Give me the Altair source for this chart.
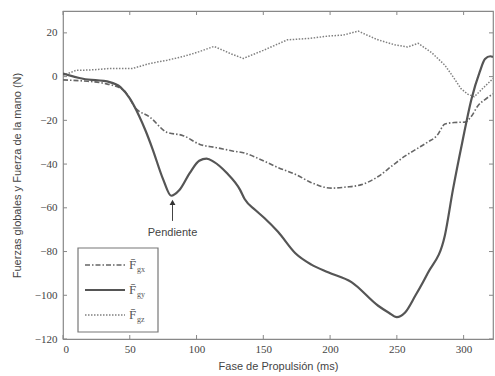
import altair as alt
import pandas as pd

# Series: solid (F gy)
gy_x = [0, 15, 35, 43, 50, 57, 62, 67, 75, 81, 87, 95, 102, 107.5, 113, 122.5, 132.5, 136, 144, 151, 161, 174, 186,
        198.5, 216, 236, 244, 250, 256, 264, 273, 286, 292, 299, 306, 312, 316, 320, 322]
gy_y = [1.4, -1, -2.5, -4.8, -10, -18, -25, -33, -47, -54.5, -52, -44, -38.5, -37.5, -39, -44, -51.7, -56, -61, -64.8,
        -71, -80.8, -86, -89.5, -94, -104.8, -108, -110, -108, -100, -90, -72.5, -51.7, -30, -10, 2, 8, 9.3, 9]

# Series: dash-dot (F gx)
gx_x = [0, 15, 30, 45, 55, 65, 77.6, 90, 102.5, 115, 127, 136, 150, 161, 175, 186, 201, 212, 223.5, 236, 246,
        256, 265, 273, 280, 286, 293, 301, 306, 310.6, 316, 322]
gx_y = [-1.5, -2, -3, -6, -14.8, -18.5, -25.4, -27, -31, -32.5, -34, -35, -38.5, -41.6, -45, -48.5, -51, -50.5,
        -49.4, -45.7, -41, -36.4, -33, -30, -27, -21.7, -21, -20.8, -18, -13.4, -10.5, -7.9]

# Series: dotted (F gz)
gz_x = [0, 10, 20, 35, 52, 65, 78, 90, 100, 113, 120, 125, 135, 150, 168, 185, 198, 210, 221, 235, 248.5, 258,
        266, 276, 286, 292, 298, 303, 308, 315, 322]
gz_y = [0.5, 2.9, 3, 3.7, 3.7, 6, 7.5, 9.2, 11, 13.8, 12, 10.6, 8.3, 12, 16.8, 17.5, 18.5, 19, 20.8, 17, 14.5,
        13.5, 15.2, 11, 5.2, 0, -5.5, -8, -9.2, -5, -0.9]

x_ticks = [0, 50, 100, 150, 200, 250, 300]
y_ticks = [20, 0, -20, -40, -60, -80, -100, -120]

legend_labels = ["gx", "gy", "gz"]
annot_text = "Pendiente"
annot_x = 82

W, H = 430, 328
XD = [0, 322]
YD = [-120, 30]

xs = alt.Scale(domain=XD, nice=False, zero=False)
ys = alt.Scale(domain=YD, nice=False, zero=False)

def series(xv, yv, color, width, dash, interp):
    df = pd.DataFrame({"t": xv, "v": yv})
    kw = dict(color=color, strokeWidth=width, clip=True, interpolate=interp)
    if dash:
        kw["strokeDash"] = dash
    return alt.Chart(df).mark_line(**kw).encode(
        x=alt.X("t:Q", scale=xs,
                axis=alt.Axis(values=x_ticks, title="Fase de Propulsión (ms)", grid=False, ticks=False,
                              labelFont="Liberation Serif", labelFontSize=11, labelColor="#444",
                              titleFont="Liberation Sans", titleFontSize=11, titleFontWeight="normal",
                              titleColor="#444", labelPadding=4, titlePadding=6, domain=False)),
        y=alt.Y("v:Q", scale=ys,
                axis=alt.Axis(values=y_ticks, title="Fuerzas globales y Fuerza de la mano (N)", grid=False,
                              ticks=False, labelFont="Liberation Serif", labelFontSize=11, labelColor="#444",
                              titleFont="Liberation Sans", titleFontSize=11, titleFontWeight="normal",
                              titleColor="#444", labelPadding=6, titlePadding=12, domain=False)),
    )

solid = series(gy_x, gy_y, "#555555", 2.2, None, "monotone")
dashdot = series(gx_x, gx_y, "#666666", 1.6, [5, 2, 1.5, 2], "monotone")
dotted = series(gz_x, gz_y, "#808080", 1.5, [1.5, 1.5], "linear")

# inward ticks
xt = pd.DataFrame({"t": x_ticks})
yt = pd.DataFrame({"v": y_ticks})
tick_color = "#888888"
xb = alt.Chart(xt).mark_rule(color=tick_color, strokeWidth=1).encode(
    x=alt.X("t:Q", scale=xs), y=alt.value(H - 4), y2=alt.value(H))
xtop = alt.Chart(xt).mark_rule(color=tick_color, strokeWidth=1).encode(
    x=alt.X("t:Q", scale=xs), y=alt.value(0), y2=alt.value(4))
yl = alt.Chart(yt).mark_rule(color=tick_color, strokeWidth=1).encode(
    y=alt.Y("v:Q", scale=ys), x=alt.value(0), x2=alt.value(4))
yr = alt.Chart(yt).mark_rule(color=tick_color, strokeWidth=1).encode(
    y=alt.Y("v:Q", scale=ys), x=alt.value(W - 4), x2=alt.value(W))

# annotation
ann = pd.DataFrame({"t": [annot_x], "v": [-66], "v2": [-57.5], "label": [annot_text]})
arrow_line = alt.Chart(ann).mark_rule(color="#444", strokeWidth=1).encode(
    x=alt.X("t:Q", scale=xs), y=alt.Y("v:Q", scale=ys), y2="v2:Q")
arrow_head = alt.Chart(ann).mark_point(shape="triangle-up", filled=True, color="#333", size=35, opacity=1).encode(
    x=alt.X("t:Q", scale=xs), y=alt.Y("v2:Q", scale=ys))
ann_text = alt.Chart(ann).mark_text(font="Liberation Sans", fontSize=11, color="#444", dy=12).encode(
    x=alt.X("t:Q", scale=xs), y=alt.Y("v:Q", scale=ys), text="label:N")

# legend box (pixel layout)
box = alt.Chart(pd.DataFrame({"a": [0]})).mark_rect(fill="white", stroke="#777", strokeWidth=1.2).encode(
    x=alt.value(15), x2=alt.value(95), y=alt.value(237), y2=alt.value(321))

leg_rows = [254, 279, 304]
leg_styles = [("#666666", 1.6, [5, 2, 1.5, 2]), ("#555555", 2.2, None), ("#808080", 1.5, [1.5, 1.5])]
leg_layers = []
for i, (c, w, d) in enumerate(leg_styles):
    yy = leg_rows[i]
    kw = dict(color=c, strokeWidth=w)
    if d:
        kw["strokeDash"] = d
    leg_layers.append(alt.Chart(pd.DataFrame({"a": [0]})).mark_rule(**kw).encode(
        x=alt.value(22), x2=alt.value(62), y=alt.value(yy)))
    leg_layers.append(alt.Chart(pd.DataFrame({"lab": ["F\u0304"]})).mark_text(
        font="Liberation Serif", fontSize=13, color="#555", align="left", baseline="middle").encode(
        x=alt.value(66), y=alt.value(yy), text="lab:N"))
    leg_layers.append(alt.Chart(pd.DataFrame({"lab": [legend_labels[i]]})).mark_text(
        font="Liberation Serif", fontSize=8, color="#555", align="left", baseline="middle").encode(
        x=alt.value(74), y=alt.value(yy + 5), text="lab:N"))

chart = alt.layer(
    dotted, dashdot, solid, xb, xtop, yl, yr, arrow_line, arrow_head, ann_text, box, *leg_layers
).properties(
    width=W, height=H,
    padding={"left": 63, "top": 11, "right": 2, "bottom": 37},
    autosize=alt.AutoSizeParams(type="none"),
    background="white",
).configure_view(stroke="#888888", strokeWidth=1.2)

chart.save("out.html", embed_options={"renderer": "svg", "actions": False})
